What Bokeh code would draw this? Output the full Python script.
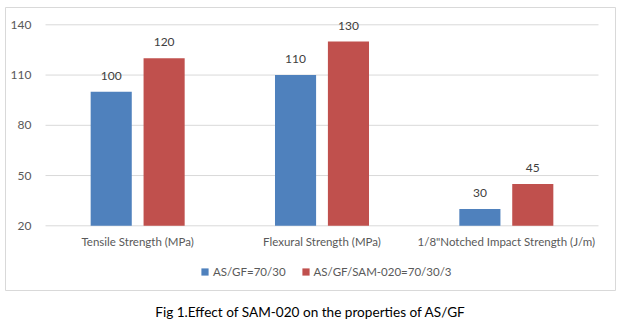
from bokeh.plotting import figure
from bokeh.models import Range1d, LinearAxis, FixedTicker, Legend, LegendItem
from bokeh.embed import file_html
from bokeh.resources import INLINE
from bokeh.core.properties import value

# ---- data ----
categories = ["Tensile Strength (MPa)", "Flexural Strength (MPa)", "1/8\"Notched Impact Strength (J/m)"]
series_names = ["AS/GF=70/30", "AS/GF/SAM-020=70/30/3"]
as_gf = [100, 110, 30]
as_gf_sam = [120, 130, 45]
y_ticks = [20, 50, 80, 110, 140]
y_labels = ["20", "50", "80", "110", "140"]
caption = "Fig 1.Effect of SAM-020 on the properties of AS/GF"

# ---- style / layout ----
BLUE = "#4F81BD"
RED = "#C0504D"
GRID = "#d9d9d9"
FONT = "Lato"
W, H = 621, 323
B_LEFT, B_RIGHT, B_TOP, B_BOTTOM = 5, 6, 7, 33   # frame is the outer chart box
box_l, box_r = B_LEFT, W - B_RIGHT
box_t, box_b = B_TOP, H - B_BOTTOM
area_l, area_r = 45, 598          # plot-area pixels
y_hi_px, y_lo_px = 24.3, 225.3    # pixel rows of 140 and 20
ncat = len(categories)
cat_px = (area_r - area_l) / ncat
ppu = (y_lo_px - y_hi_px) / (y_ticks[-1] - y_ticks[0])

x_start = -(area_l - box_l) / cat_px
x_end = ncat + (box_r - area_r) / cat_px
y_end = y_ticks[-1] + (y_hi_px - box_t) / ppu
y_start = y_ticks[0] - (box_b - y_lo_px) / ppu

p = figure(width=W, height=H, output_backend="svg", toolbar_location=None,
           x_range=Range1d(x_start, x_end), y_range=Range1d(y_start, y_end),
           x_axis_location=None, y_axis_location=None, title=None)
p.min_border_left = B_LEFT
p.min_border_right = B_RIGHT
p.min_border_top = B_TOP
p.min_border_bottom = B_BOTTOM
p.outline_line_color = GRID
p.outline_line_width = 1
p.background_fill_color = "white"
p.border_fill_color = "white"
p.xgrid.visible = False
p.ygrid.visible = False

# gridlines within plot area
p.segment(x0=[0] * len(y_ticks), x1=[ncat] * len(y_ticks), y0=y_ticks, y1=y_ticks,
          line_color=GRID, line_width=1)

centers = [i + 0.5 for i in range(ncat)]
bw = 0.223
off = 0.1435
xb = [c - off for c in centers]
xr = [c + off for c in centers]
base = y_ticks[0]

r1 = p.vbar(x=xb, top=as_gf, bottom=base, width=bw, fill_color=BLUE, line_color=None)
r2 = p.vbar(x=xr, top=as_gf_sam, bottom=base, width=bw, fill_color=RED, line_color=None)

for xs, vals in ((xb, as_gf), (xr, as_gf_sam)):
    p.text(x=xs, y=vals, text=[str(v) for v in vals], text_align="center",
           text_baseline="bottom", y_offset=-12, text_font=value(FONT),
           text_font_size="12px", text_color="#404040")

# y axis
yax = LinearAxis(fixed_location=0, ticker=FixedTicker(ticks=y_ticks),
                 major_label_overrides={t: l for t, l in zip(y_ticks, y_labels)})
yax.axis_line_color = None
yax.major_tick_line_color = None
yax.minor_tick_line_color = None
yax.major_label_standoff = 8
yax.major_label_text_font = FONT
yax.major_label_text_font_size = "12px"
yax.major_label_text_color = "#595959"
p.add_layout(yax, "left")

# category axis
xax = LinearAxis(fixed_location=base, ticker=FixedTicker(ticks=centers),
                 major_label_overrides={c: n for c, n in zip(centers, categories)})
xax.axis_line_color = None
xax.major_tick_line_color = None
xax.minor_tick_line_color = None
xax.major_label_standoff = 3
xax.major_label_text_font = FONT
xax.major_label_text_font_size = "11.5px"
xax.major_label_text_color = "#595959"
p.add_layout(xax, "below")

legend = Legend(items=[LegendItem(label=series_names[0], renderers=[r1]),
                       LegendItem(label=series_names[1], renderers=[r2])],
                location=(195, 12), orientation="horizontal")
legend.glyph_width = 9
legend.glyph_height = 9
legend.label_standoff = 4
legend.spacing = 15
legend.padding = 0
legend.margin = 0
legend.border_line_color = None
legend.background_fill_alpha = 0
legend.label_text_font = FONT
legend.label_text_font_size = "11.5px"
legend.label_text_color = "#595959"
p.add_layout(legend, "center")

# caption below the chart box
mid = (x_start + x_end) / 2
cax = LinearAxis(ticker=FixedTicker(ticks=[mid]), major_label_overrides={mid: caption})
cax.axis_line_color = None
cax.major_tick_line_color = None
cax.minor_tick_line_color = None
cax.major_tick_out = 0
cax.major_tick_in = 0
cax.major_label_standoff = 13
cax.major_label_text_font = FONT
cax.major_label_text_font_size = "13.6px"
cax.major_label_text_color = "#000000"
p.add_layout(cax, "below")

open("out.html", "w").write(file_html(p, INLINE))
